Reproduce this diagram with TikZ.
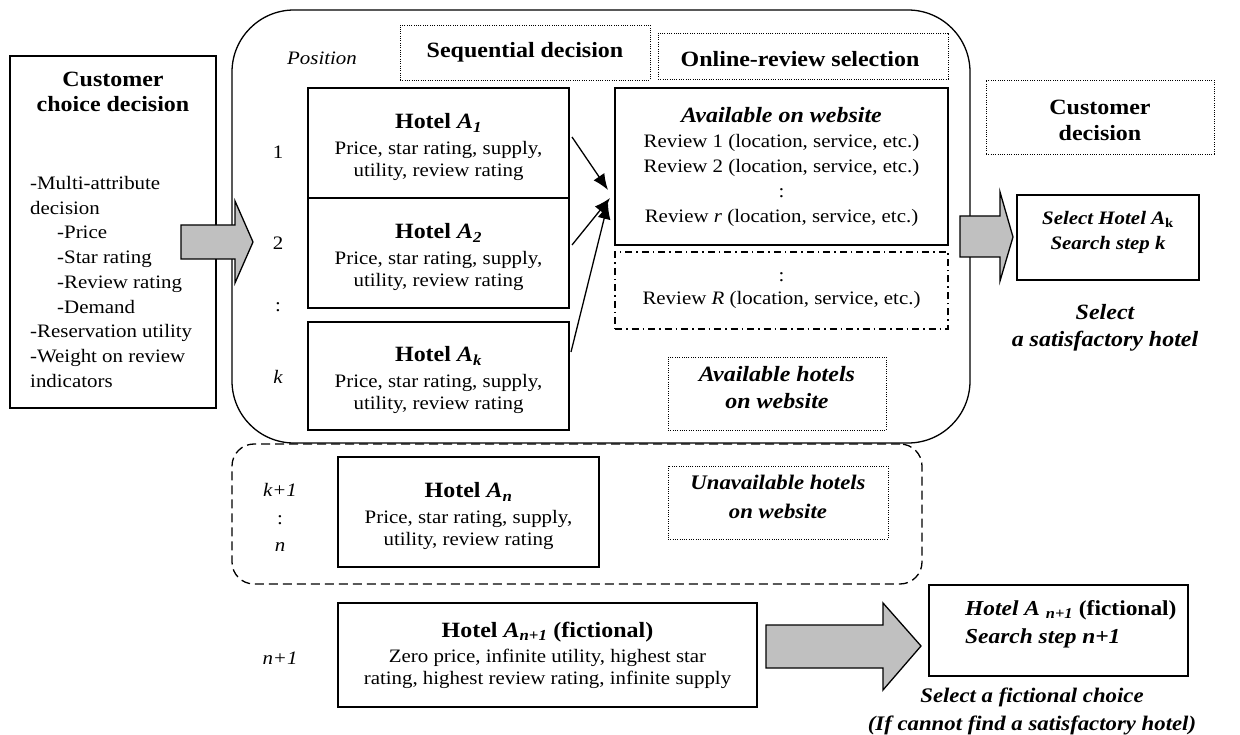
\documentclass[tikz,border=0pt]{standalone}
\usepackage{fontspec}
\setmainfont{Liberation Serif}[FakeStretch=1.1]
\usetikzlibrary{arrows.meta,calc}
\definecolor{arrowgray}{RGB}{192,192,192}
\newcommand{\bodyf}{\fontsize{19}{22}\selectfont}
\newcommand{\titf}{\fontsize{21.8}{25}\selectfont}
\newcommand{\hoteltext}[1]{{\titf\rule{0pt}{24pt}\textbf{Hotel \textit{A}\textsubscript{\textit{#1}}}}\\[4pt]Price, star rating, supply,\\utility, review rating}
\begin{document}
\begin{tikzpicture}[x=1pt,y=-1pt,
  frame/.style={draw, line width=1.3pt, inner sep=0pt, outer sep=0pt},
  dotbox/.style={draw, line width=0.9pt, dash pattern=on 1pt off 1.3pt, inner sep=0pt, outer sep=0pt},
  txt/.style={inner sep=0pt, align=center},
  blockarrow/.style={draw, line width=1.3pt, fill=arrowgray, line join=miter},
  conn/.style={line width=1.3pt, -{Latex[length=16pt,width=13pt]}}
]
\useasboundingbox (0,0) rectangle (1240,735);

% containers
\node[draw, line width=1.3pt, dash pattern=on 9pt off 5pt, rounded corners=22pt,
      minimum width=690pt, minimum height=140pt, inner sep=0pt] (unavail) at (577,514) {};
\node[frame, rounded corners=62pt, minimum width=738pt, minimum height=433pt, fill=white] (availarea) at (601,226.5) {};

% left decision box
\node[frame, minimum width=206pt, minimum height=352pt] (cust) at (113,232) {};
\node[txt, font=\titf\bfseries] (custtitle) at (113,92) {Customer\\choice decision};
\node[txt, align=left, anchor=west, font=\fontsize{19}{24.75}\selectfont] (custlist) at (30,282)
 {-Multi-attribute\\decision\\\hspace*{27pt}-Price\\\hspace*{27pt}-Star rating\\\hspace*{27pt}-Review rating\\\hspace*{27pt}-Demand\\-Reservation utility\\-Weight on review\\indicators};

% header boxes
\node[dotbox, minimum width=250pt, minimum height=55pt] (seq) at (525,52.5) {};
\node[txt, font=\titf\bfseries] (seqt) at (525,52) {Sequential decision};
\node[dotbox, minimum width=290pt, minimum height=46pt] (orsel) at (803,56) {};
\node[txt, font=\titf\bfseries] (orselt) at (800,59) {Online-review selection};
\node[txt, font=\fontsize{19}{22}\selectfont\itshape] (pos) at (322,58) {Position};

% hotel boxes
\node[frame, minimum width=261pt, minimum height=110pt, align=center, font=\bodyf] (A1) at (438.5,143) {\hoteltext{1}};
\node[frame, minimum width=261pt, minimum height=110pt, align=center, font=\bodyf] (A2) at (438.5,253) {\hoteltext{2}};
\node[frame, minimum width=261pt, minimum height=108pt, align=center, font=\bodyf] (Ak) at (438.5,376) {\hoteltext{k}};
\node[frame, minimum width=261pt, minimum height=110pt, align=center, font=\bodyf] (An) at (468.5,512) {\hoteltext{n}};
\node[frame, minimum width=419pt, minimum height=104pt, align=center, font=\bodyf] (An1) at (547.5,655)
 {{\titf\textbf{Hotel \textit{A}\textsubscript{\textit{n+1}} (fictional)}}\\[3pt]Zero price, infinite utility, highest star\\rating, highest review rating, infinite supply};

% position labels
\node[txt, font=\bodyf] (p1) at (278,152) {1};
\node[txt, font=\bodyf] (p2) at (278,243) {2};
\node[txt, font=\bodyf] (pd1) at (278,307) {:};
\node[txt, font=\bodyf\itshape] (pk) at (278,377) {k};
\node[txt, font=\bodyf\itshape] (pk1) at (280,490) {k+1};
\node[txt, font=\bodyf] (pd2) at (280,520) {:};
\node[txt, font=\bodyf\itshape] (pn) at (280,547) {n};
\node[txt, font=\bodyf\itshape] (pn1) at (280,658) {n+1};

% review boxes
\node[frame, minimum width=333pt, minimum height=157pt, align=center, font=\fontsize{19}{25}\selectfont] (rev) at (781.5,166.5)
 {{\titf\textbf{\textit{Available on website}}}\\Review 1 (location, service, etc.)\\Review 2 (location, service, etc.)\\:\\Review \textit{r} (location, service, etc.)};
\node[draw, line width=1.1pt, dash pattern=on 7pt off 4pt on 1.5pt off 4pt, inner sep=0pt,
      minimum width=333pt, minimum height=77pt, align=center, font=\fontsize{19}{23}\selectfont] (revR) at (781.5,290.5)
 {:\\Review \textit{R} (location, service, etc.)};

% available / unavailable labels
\node[dotbox, minimum width=218pt, minimum height=73pt] (availlab) at (777,393.5) {};
\node[txt, font=\fontsize{21.8}{27}\selectfont\bfseries\itshape] (availlabt) at (777,388) {Available hotels\\on website};
\node[dotbox, minimum width=220pt, minimum height=73pt] (unavlab) at (778,502.5) {};
\node[txt, font=\fontsize{20.7}{29}\selectfont\bfseries\itshape] (unavlabt) at (778,497) {Unavailable hotels\\on website};

% right side
\node[dotbox, minimum width=228pt, minimum height=74pt] (ccd) at (1100,117) {};
\node[txt, font=\fontsize{21.8}{26}\selectfont\bfseries] (ccdt) at (1100,120) {Customer\\decision};
\node[frame, minimum width=182pt, minimum height=85pt] (selk) at (1108,237.5) {};
\node[txt, font=\fontsize{19}{25}\selectfont\bfseries\itshape] (selkt) at (1108,232.5) {Select Hotel A\textsubscript{\upshape k}\\Search step k};
\node[txt, font=\fontsize{21.8}{27}\selectfont\bfseries\itshape] (sat) at (1105,328) {Select\\a satisfactory hotel};

\node[frame, minimum width=259pt, minimum height=91pt] (fict) at (1058.5,630.5) {};
\node[txt, align=left, anchor=west, font=\fontsize{21.3}{28}\selectfont\bfseries] (fictt) at (965,624)
 {\textit{Hotel A \textsubscript{n+1}} (fictional)\\\textit{Search step n+1}};
\node[txt, font=\fontsize{20.7}{28}\selectfont\bfseries\itshape] (fictlab) at (1032,711) {Select a fictional choice\\(If cannot find a satisfactory hotel)};

% connectors from hotels to reviews
\draw[conn] ($(A1.east)+(3,-6)$) -- ($(rev.west)+(-7,23.5)$);
\draw[conn] ($(A2.east)+(3,-8)$) -- ($(rev.west)+(-5,31.5)$);
\draw[conn] ($(Ak.east)+(2,-24)$) -- ($(rev.west)+(-7,36.5)$);

% block arrows
\draw[blockarrow] (181,225) -- (235,225) -- (235,201) -- (253,242) -- (235,283) -- (235,259) -- (181,259) -- cycle;
\draw[blockarrow] (960,216) -- (1000,216) -- (1000,192) -- (1013,237) -- (1000,281) -- (1000,257) -- (960,257) -- cycle;
\draw[blockarrow] (766,625) -- (883,625) -- (883,603) -- (921,646) -- (883,690) -- (883,668) -- (766,668) -- cycle;
\end{tikzpicture}
\end{document}
